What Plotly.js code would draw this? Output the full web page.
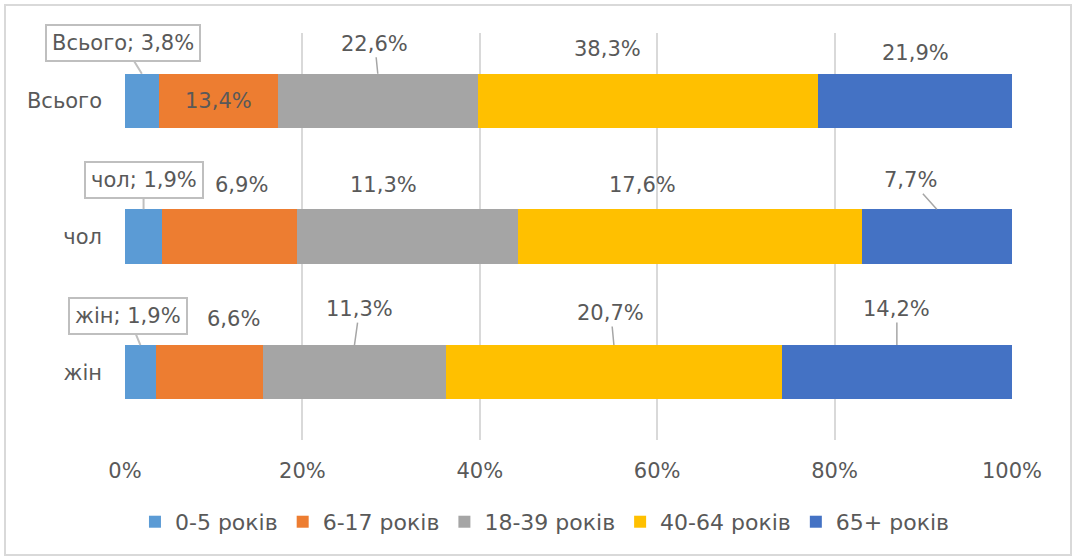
<!DOCTYPE html>
<html><head><meta charset="utf-8">
<script src="https://cdn.plot.ly/plotly-3.0.1.min.js"></script>
<style>
html,body{margin:0;padding:0;background:#fff;}
#chart{width:1077px;height:560px;}
#frame{position:absolute;left:4px;top:4px;width:1068px;height:552px;border:2px solid #d9d9d9;pointer-events:none;box-sizing:border-box;}
</style>
</head><body>
<div id="chart"></div><div id="frame"></div>
<script>
// ---- data ----
const categories = ['Всього', 'чол', 'жін'];
const seriesNames = ['0-5 років', '6-17 років', '18-39 років', '40-64 років', '65+ років'];
const age0to5 = [3.8, 1.9, 1.9];
const age6to17 = [13.4, 6.9, 6.6];
const age18to39 = [22.6, 11.3, 11.3];
const age40to64 = [38.3, 17.6, 20.7];
const age65plus = [21.9, 7.7, 14.2];
const xTickVals = [0, 20, 40, 60, 80, 100];

// ---- styles ----
const series = [age0to5, age6to17, age18to39, age40to64, age65plus];
const colors = ['#5b9bd5', '#ed7d31', '#a5a5a5', '#ffc000', '#4472c4'];
const FONT = '"DejaVu Sans", sans-serif';
const TXT = '#595959';
const FS = 21;

// label placement (layout only): [category][series]
// mode: 'box' = callout with leader, 'lead' = leader line, 'free' = shifted, no leader
const place = [
  [{m:'box',ax:-19,ay:-31},{m:'free',dx:0,dy:0},{m:'lead',ax:-3,ay:-30},{m:'free',dx:-40,dy:52},{m:'free',dx:1,dy:48}],
  [{m:'box',ax:0,ay:-29},{m:'free',dx:12,dy:52},{m:'free',dx:-24,dy:52},{m:'free',dx:-47,dy:52},{m:'lead',ax:-26,ay:-29}],
  [{m:'box',ax:-12,ay:-29},{m:'free',dx:24,dy:53},{m:'lead',ax:5,ay:-36},{m:'lead',ax:-3,ay:-32},{m:'lead',ax:0,ay:-36}]
];

const traces = series.map((vals, s) => ({
  type: 'bar', orientation: 'h', name: seriesNames[s],
  x: vals, y: categories,
  marker: {color: colors[s]}, hoverinfo: 'x+name'
}));

const fmt = v => v.toFixed(1).replace('.', ',') + '%';
const annotations = [];
categories.forEach((cat, i) => {
  const total = series.reduce((a, arr) => a + arr[i], 0);
  let cum = 0;
  series.forEach((arr, s) => {
    const pct = arr[i] / total * 100;
    const mid = cum + pct / 2;
    cum += pct;
    const p = place[i][s];
    const base = {xref: 'x', yref: 'y', x: mid, font: {family: FONT, size: FS, color: TXT}};
    if (p.m === 'free') {
      annotations.push(Object.assign(base, {y: i, text: fmt(arr[i]), showarrow: false, xshift: p.dx, yshift: p.dy}));
    } else if (p.m === 'lead') {
      annotations.push(Object.assign(base, {y: i - 0.2, text: fmt(arr[i]), showarrow: true, arrowhead: 0,
        arrowwidth: 1.5, arrowcolor: '#a6a6a6', ax: p.ax, ay: p.ay, standoff: 0}));
    } else {
      annotations.push(Object.assign(base, {y: i - 0.2, text: cat + '; ' + fmt(arr[i]), showarrow: true, arrowhead: 0,
        arrowwidth: 2, arrowcolor: '#bfbfbf', ax: p.ax, ay: p.ay, standoff: 0,
        bgcolor: '#ffffff', bordercolor: '#bfbfbf', borderwidth: 2, borderpad: 5}));
    }
  });
});

const layout = {
  width: 1077, height: 560,
  margin: {l: 125, r: 65, t: 33, b: 120},
  paper_bgcolor: '#ffffff', plot_bgcolor: '#ffffff',
  barmode: 'stack', barnorm: 'percent', bargap: 0.6,
  font: {family: FONT, size: FS, color: TXT},
  xaxis: {range: [0, 100], tickvals: xTickVals, ticktext: xTickVals.map(v => v + '%'),
    showgrid: true, gridcolor: '#d9d9d9', gridwidth: 2, zeroline: false, showline: false,
    ticks: '', ticklabelstandoff: 16, tickfont: {family: FONT, size: FS, color: TXT}, fixedrange: true},
  yaxis: {type: 'category', range: [2.5, -0.5], showgrid: false, zeroline: false, showline: false,
    ticks: '', ticklabelstandoff: 22, tickfont: {family: FONT, size: FS, color: TXT}, fixedrange: true},
  legend: {orientation: 'h', xref: 'container', yref: 'container', x: 0.506, xanchor: 'center',
    y: 0.068, yanchor: 'middle', font: {family: FONT, size: 22, color: TXT}, traceorder: 'normal'},
  annotations: annotations,
  showlegend: true
};

Plotly.newPlot('chart', traces, layout, {displayModeBar: false, staticPlot: true});
</script>
</body></html>
